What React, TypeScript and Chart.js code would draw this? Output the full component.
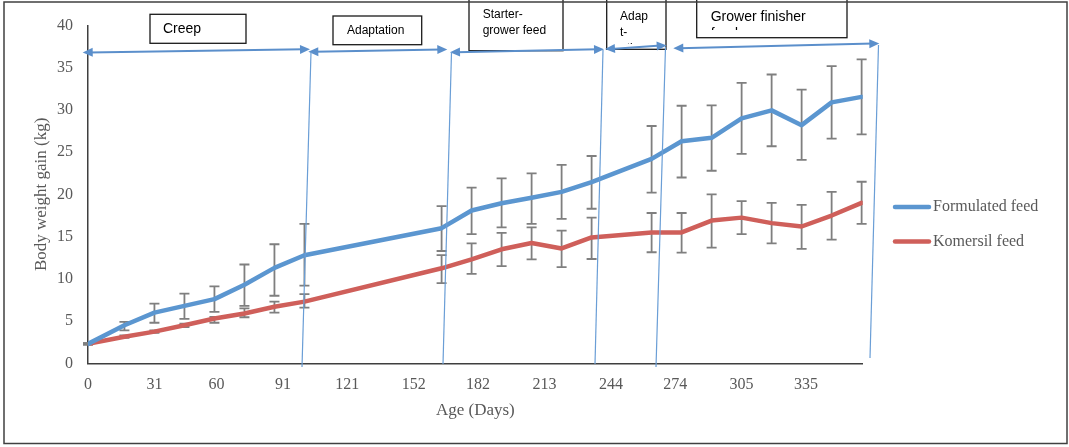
import React, { useEffect, useRef } from 'react';
import { Chart, registerables } from 'chart.js';

Chart.register(...registerables);

// ---- data (age in days, body weight gain in kg) ----
const days = [0, 17, 31, 45, 59, 73, 87, 101, 165, 179, 193, 207, 221, 235, 263, 277, 291, 305, 319, 333, 347, 361];
const formulated = [2.3, 4.5, 6.0, 6.8, 7.6, 9.3, 11.3, 12.8, 16.0, 18.1, 18.95, 19.6, 20.3, 21.45, 24.2, 26.3, 26.7, 29.0, 29.95, 28.2, 30.9, 31.55];
const formulatedHigh = [2.4, 4.9, 7.06, 8.25, 9.1, 11.7, 14.1, 16.5, 18.6, 20.8, 21.9, 22.5, 23.5, 24.55, 28.1, 30.5, 30.55, 33.2, 34.2, 32.4, 35.2, 36.0];
const formulatedLow = [2.2, 3.9, 4.8, 5.25, 6.1, 6.8, 8.0, 9.2, 13.3, 15.3, 16.1, 16.5, 17.1, 18.3, 20.2, 22.0, 22.8, 24.8, 25.7, 24.1, 26.6, 27.1];
const komersil = [2.3, 3.15, 3.75, 4.5, 5.3, 5.9, 6.7, 7.3, 11.25, 12.3, 13.5, 14.25, 13.6, 14.9, 15.5, 15.5, 16.9, 17.25, 16.6, 16.2, 17.5, 19.0];
const komersilHigh = [2.4, 3.3, 3.9, 4.7, 5.5, 6.5, 7.3, 8.2, 12.8, 14.2, 15.45, 16.1, 15.7, 17.25, 17.8, 17.8, 20.0, 19.2, 19.0, 18.75, 20.3, 21.5];
const komersilLow = [2.2, 3.0, 3.6, 4.3, 4.8, 5.45, 6.0, 6.6, 9.5, 10.6, 11.5, 12.3, 11.4, 12.35, 13.15, 13.1, 13.7, 15.3, 14.2, 13.55, 14.65, 16.5];
const xTickValues = [0, 31, 60, 91, 121, 152, 182, 213, 244, 274, 305, 335];
const seriesLabels = ['Formulated feed', 'Komersil feed'];
const phaseLabels = [['Creep'], ['Adaptation'], ['Starter-', 'grower feed'], ['Adap', 't-', 'ation'], ['Grower finisher', 'feed']];
const xTitle = 'Age (Days)';
const yTitle = 'Body weight gain (kg)';

const BLUE = '#5B96D0';
const RED = '#CF5F5A';
const GRAY_TEXT = '#595959';
const SERIF = '"Liberation Serif", serif';
const SANS = '"Liberation Sans", Arial, sans-serif';

const errorBarPlugin = {
  id: 'errorBars',
  beforeDatasetsDraw(chart: any) {
    const { ctx, scales } = chart;
    const x = scales.x;
    const y = scales.y;
    const sets = [
      [formulatedLow, formulatedHigh],
      [komersilLow, komersilHigh],
    ];
    ctx.save();
    ctx.strokeStyle = '#7F7F7F';
    ctx.lineWidth = 1.8;
    sets.forEach(([lo, hi]) => {
      days.forEach((d, i) => {
        const px = x.getPixelForValue(d);
        const py1 = y.getPixelForValue(lo[i]);
        const py2 = y.getPixelForValue(hi[i]);
        ctx.beginPath();
        ctx.moveTo(px, py1);
        ctx.lineTo(px, py2);
        ctx.moveTo(px - 5, py1);
        ctx.lineTo(px + 5, py1);
        ctx.moveTo(px - 5, py2);
        ctx.lineTo(px + 5, py2);
        ctx.stroke();
      });
    });
    ctx.restore();
  },
};

// annotation shapes (drawn boxes/arrows, placed in page pixels)
const boxes = [
  { x: 150, y: 14.3, w: 96, h: 29, size: 14, tx: 163, ty: [29.5], clip: 0 },
  { x: 333, y: 16, w: 88.7, h: 28.7, size: 12, tx: 347, ty: [30.7], clip: 0 },
  { x: 469, y: -1, w: 94, h: 51.7, size: 12, tx: 482.7, ty: [15, 31], clip: 0 },
  { x: 606.7, y: -1, w: 59.3, h: 50.3, size: 12, tx: 620, ty: [17, 33, 49], clip: 45 },
  { x: 696.7, y: -1, w: 150.3, h: 38.7, size: 14, tx: 710.7, ty: [16.7, 34], clip: 31 },
];
const arrows = [
  [82.7, 52.5, 310, 49.3],
  [308.3, 51.8, 447.3, 49.4],
  [450, 52.3, 604, 49.3],
  [605, 49, 666.7, 45.4],
  [673.3, 48.2, 879.3, 43.6],
];
const vlines = [
  [311, 52, 302, 367],
  [451.5, 52, 443, 364],
  [603, 50, 595, 364],
  [665.5, 47, 656, 367],
  [878.5, 45, 870, 358],
];

function drawArrowHead(ctx: CanvasRenderingContext2D, tx: number, ty: number, fx: number, fy: number) {
  const ang = Math.atan2(ty - fy, tx - fx);
  const len = 10;
  const half = 4.5;
  const bx = tx - len * Math.cos(ang);
  const by = ty - len * Math.sin(ang);
  ctx.beginPath();
  ctx.moveTo(tx, ty);
  ctx.lineTo(bx + half * Math.sin(ang), by - half * Math.cos(ang));
  ctx.lineTo(bx - half * Math.sin(ang), by + half * Math.cos(ang));
  ctx.closePath();
  ctx.fill();
}

const annotationPlugin = {
  id: 'phaseAnnotations',
  afterDraw(chart: any) {
    const ctx: CanvasRenderingContext2D = chart.ctx;
    ctx.save();
    // boxes
    boxes.forEach((b, i) => {
      ctx.fillStyle = '#ffffff';
      ctx.fillRect(b.x, b.y, b.w, b.h);
      ctx.strokeStyle = '#1a1a1a';
      ctx.lineWidth = 1.3;
      ctx.strokeRect(b.x, b.y, b.w, b.h);
      ctx.save();
      ctx.beginPath();
      ctx.rect(b.x + 1, b.y + 1, b.w - 2, (b.clip ? b.clip - b.y : b.h) - 2);
      ctx.clip();
      ctx.fillStyle = '#000000';
      ctx.font = `${b.size}px ${SANS}`;
      ctx.textBaseline = 'middle';
      ctx.textAlign = 'left';
      phaseLabels[i].forEach((line, j) => ctx.fillText(line, b.tx, b.ty[j]));
      ctx.restore();
    });
    // arrows
    ctx.strokeStyle = '#5B8FCB';
    ctx.fillStyle = '#5B8FCB';
    ctx.lineWidth = 2;
    arrows.forEach(([x1, y1, x2, y2]) => {
      ctx.beginPath();
      ctx.moveTo(x1 + 6, y1);
      ctx.lineTo(x2 - 6, y2);
      ctx.stroke();
      drawArrowHead(ctx, x1, y1, x2, y2);
      drawArrowHead(ctx, x2, y2, x1, y1);
    });
    // vertical separators
    ctx.strokeStyle = '#6A9ED6';
    ctx.lineWidth = 1.2;
    vlines.forEach(([x1, y1, x2, y2]) => {
      ctx.beginPath();
      ctx.moveTo(x1, y1);
      ctx.lineTo(x2, y2);
      ctx.stroke();
    });
    // legend
    const ds = chart.data.datasets;
    const legendY = [207, 241.5];
    ds.forEach((d: any, i: number) => {
      ctx.strokeStyle = d.borderColor;
      ctx.lineWidth = 4.5;
      ctx.lineCap = 'round';
      ctx.beginPath();
      ctx.moveTo(895, legendY[i]);
      ctx.lineTo(929, legendY[i]);
      ctx.stroke();
      ctx.fillStyle = GRAY_TEXT;
      ctx.font = `16px ${SERIF}`;
      ctx.textBaseline = 'middle';
      ctx.textAlign = 'left';
      ctx.fillText(d.label, 933, legendY[i]);
    });
    // outer frame
    ctx.strokeStyle = '#404040';
    ctx.lineWidth = 1.5;
    ctx.strokeRect(4, 2, 1063, 441.5);
    ctx.restore();
  },
};

export default function App() {
  const ref = useRef<HTMLCanvasElement>(null);
  useEffect(() => {
    const canvas = ref.current;
    if (!canvas) return;
    const chart = new Chart(canvas, {
      type: 'line',
      data: {
        datasets: [
          {
            label: seriesLabels[0],
            data: days.map((d, i) => ({ x: d, y: formulated[i] })),
            borderColor: BLUE,
            backgroundColor: BLUE,
          },
          {
            label: seriesLabels[1],
            data: days.map((d, i) => ({ x: d, y: komersil[i] })),
            borderColor: RED,
            backgroundColor: RED,
          },
        ],
      },
      options: {
        responsive: false,
        animation: false,
        devicePixelRatio: 1,
        layout: { padding: { left: 0, top: 25.5, right: 206.3, bottom: 0 } },
        elements: {
          point: { radius: 0, hoverRadius: 0 },
          line: { tension: 0, borderWidth: 4.5, borderCapStyle: 'round', borderJoinStyle: 'round' },
        },
        plugins: {
          legend: { display: false },
          tooltip: { enabled: false },
        },
        scales: {
          x: {
            type: 'linear',
            min: 0,
            max: 361.5,
            afterBuildTicks: (s: any) => {
              s.ticks = xTickValues.map((v) => ({ value: v }));
            },
            afterFit: (s: any) => {
              s.height = 83.7;
            },
            grid: { display: false, drawTicks: false },
            border: { display: true, color: '#3F3F3F', width: 1.5 },
            ticks: {
              autoSkip: false,
              maxRotation: 0,
              padding: 12,
              color: GRAY_TEXT,
              font: { family: SERIF, size: 16 },
              callback: (v: any) => String(v),
            },
            title: {
              display: true,
              text: xTitle,
              color: GRAY_TEXT,
              font: { family: SERIF, size: 17 },
              padding: { top: 0, bottom: 26 },
            },
          },
          y: {
            min: 0,
            max: 40,
            afterFit: (s: any) => {
              s.width = 88;
            },
            grid: { display: false, drawTicks: false },
            border: { display: true, color: '#3F3F3F', width: 1.5 },
            ticks: {
              stepSize: 5,
              padding: 15,
              color: GRAY_TEXT,
              font: { family: SERIF, size: 16 },
            },
            title: {
              display: true,
              text: yTitle,
              color: GRAY_TEXT,
              font: { family: SERIF, size: 17 },
              padding: { top: 31.5, bottom: 0 },
            },
          },
        },
      },
      plugins: [errorBarPlugin, annotationPlugin],
    } as any);
    return () => chart.destroy();
  }, []);
  return (
    <div style={{ position: 'fixed', left: 0, top: 0, width: 1069, height: 447, background: '#ffffff' }}>
      <canvas ref={ref} width={1069} height={447} style={{ display: 'block' }} />
    </div>
  );
}
